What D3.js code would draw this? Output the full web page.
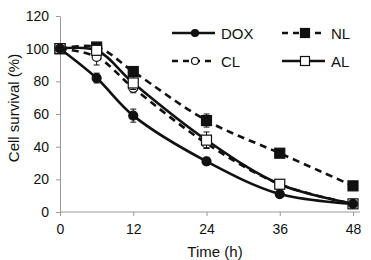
<!DOCTYPE html>
<html lang="en">
<head>
<meta charset="UTF-8">
<title>Cell survival</title>
<script src="https://d3js.org/d3.v7.min.js"></script>
<style>
    body { margin: 0; background: #fff; }
    svg text { font-family: "Liberation Sans", Arial, sans-serif; fill: #111; }
    .axis path, .axis line { stroke: #999; }
    .axis text { font-size: 14px; }
</style>
</head>
<body>
<svg id="chart" width="371" height="260"></svg>
<script>
// data
const times = [0, 6, 12, 24, 36, 48];
const xTicks = [0, 12, 24, 36, 48];
const yTicks = [0, 20, 40, 60, 80, 100, 120];
const dox = [100, 82, 59, 31, 11, 5];
const doxErr = [0, 3, 4, 2, 1, 1];
const nl = [100, 101, 86, 56, 36, 16];
const nlErr = [0, 2, 3, 4, 2, 1];
const cl = [100, 95, 76, 42, 17, 5];
const clErr = [0, 5, 3, 3, 2, 1];
const al = [100, 99, 79, 44, 17, 5];
const alErr = [0, 3, 4, 5, 2, 1];

const series = [
    { name: "DOX", values: dox, err: doxErr, dash: null, marker: "circle", fill: "#111" },
    { name: "NL", values: nl, err: nlErr, dash: "7,5", marker: "square", fill: "#111" },
    { name: "CL", values: cl, err: clErr, dash: "7,5", marker: "circle", fill: "#fff" },
    { name: "AL", values: al, err: alErr, dash: null, marker: "square", fill: "#fff" }
];

const svg = d3.select("#chart");
const x = d3.scaleLinear().domain([0, 48]).range([60, 353]);
const y = d3.scaleLinear().domain([0, 120]).range([212, 16]);

// axes
svg.append("g")
    .attr("class", "axis")
    .attr("transform", "translate(0,212)")
    .call(d3.axisBottom(x).tickValues(xTicks).tickSize(4).tickSizeOuter(0).tickPadding(8))
    .select(".domain").attr("d", "M60,0H360");

svg.append("g")
    .attr("class", "axis")
    .attr("transform", "translate(60,0)")
    .call(d3.axisLeft(y).tickValues(yTicks).tickSize(4).tickSizeOuter(0).tickPadding(7));

svg.append("text")
    .attr("x", 215).attr("y", 253)
    .attr("text-anchor", "middle")
    .attr("dominant-baseline", "middle")
    .attr("font-size", 15)
    .text("Time (h)");

svg.append("text")
    .attr("transform", "translate(15,108) rotate(-90)")
    .attr("text-anchor", "middle")
    .attr("dominant-baseline", "middle")
    .attr("font-size", 15)
    .text("Cell survival (%)");

const line = d3.line()
    .x((d, i) => x(times[i]))
    .y(d => y(d))
    .curve(d3.curveCatmullRom.alpha(0.5));

function drawMarker(g, kind, cx, cy, fill, size) {
    if (kind === "circle") {
        g.append("circle")
            .attr("cx", cx).attr("cy", cy).attr("r", size / 2)
            .attr("fill", fill).attr("stroke", "#111").attr("stroke-width", 1.2);
    } else {
        g.append("rect")
            .attr("x", cx - size / 2).attr("y", cy - size / 2)
            .attr("width", size).attr("height", size)
            .attr("fill", fill).attr("stroke", "#111").attr("stroke-width", 1.2);
    }
}

// draw order: dashed and back series first
[series[1], series[2], series[3], series[0]].forEach(s => {
    const g = svg.append("g");
    g.append("path")
        .attr("d", line(s.values))
        .attr("fill", "none")
        .attr("stroke", "#111")
        .attr("stroke-width", 2.6)
        .attr("stroke-dasharray", s.dash);

    s.values.forEach((v, i) => {
        const e = s.err[i];
        if (e > 0) {
            const cx = x(times[i]);
            g.append("path")
                .attr("d", `M${cx},${y(v - e)}V${y(v + e)}M${cx - 3},${y(v - e)}H${cx + 3}M${cx - 3},${y(v + e)}H${cx + 3}`)
                .attr("stroke", "#111").attr("stroke-width", 1).attr("fill", "none");
        }
        drawMarker(g, s.marker, x(times[i]), y(v), s.fill, s.marker === "circle" ? 9 : 10);
    });
});

// legend
const legendPos = [
    { s: series[0], x: 172, y: 33 },
    { s: series[1], x: 282, y: 33 },
    { s: series[2], x: 172, y: 61 },
    { s: series[3], x: 282, y: 61 }
];
legendPos.forEach(p => {
    const g = svg.append("g");
    g.append("line")
        .attr("x1", p.x).attr("x2", p.x + 43)
        .attr("y1", p.y).attr("y2", p.y)
        .attr("stroke", "#111").attr("stroke-width", 2.6)
        .attr("stroke-dasharray", p.s.dash ? "6,5" : null);
    drawMarker(g, p.s.marker, p.x + 23, p.y, p.s.fill, p.s.marker === "circle" ? 7 : 9);
    g.append("text")
        .attr("x", p.x + 49).attr("y", p.y)
        .attr("dominant-baseline", "central")
        .attr("font-size", 15)
        .text(p.s.name);
});
</script>
</body>
</html>
